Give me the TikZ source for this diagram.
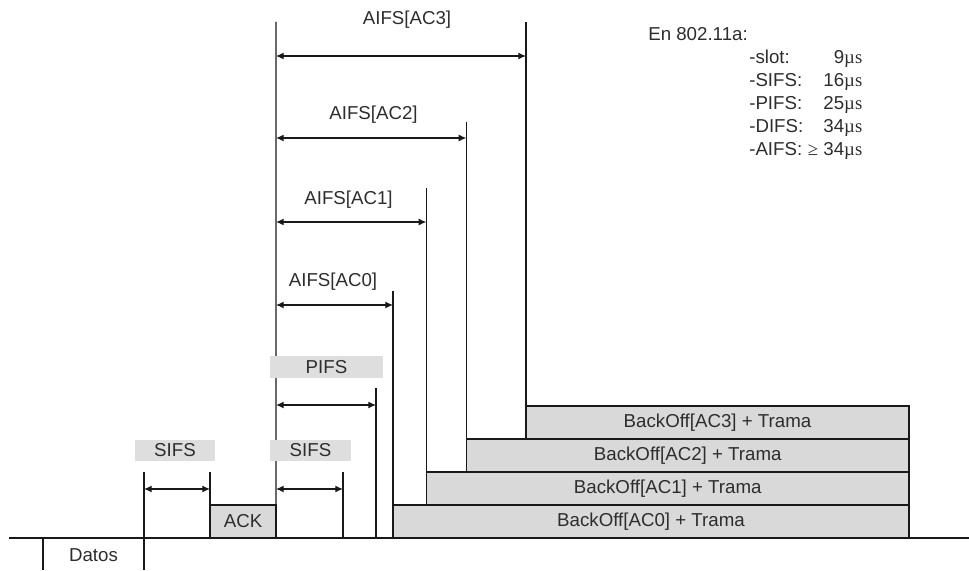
\documentclass[tikz,border=0pt]{standalone}
\usepackage{fontspec}
\setmainfont{Liberation Sans}
\newfontfamily\simbolo{Liberation Serif}
\usepackage{tikz}
\usetikzlibrary{arrows.meta,positioning}
\definecolor{grisbloque}{RGB}{217,217,217}
\definecolor{grisetiqueta}{RGB}{222,222,222}
\definecolor{grislinea}{RGB}{25,25,25}
\definecolor{gristexto}{RGB}{45,45,45}
\newcommand{\microseg}{{\simbolo µs}}

\begin{document}
\begin{tikzpicture}[
        font=\fontsize{13.3}{16.3}\selectfont, text=gristexto,
        linea/.style={draw=grislinea, line width=0.9pt},
        bloque/.style={rectangle, draw=grislinea, line width=0.9pt, fill=grisbloque, minimum height=0.825cm, inner sep=0pt, outer sep=0pt, anchor=south west},
        etiqueta/.style={rectangle, fill=grisetiqueta, minimum height=0.525cm, inner sep=0pt},
        cota/.style={<->, draw=grislinea, line width=0.9pt, >={Latex[length=5.5pt,width=5pt]}}]

        \useasboundingbox (0,0) rectangle (24.225,14.25);

        % eje de tiempo
        \coordinate (ejeI) at (0.225,0.8);
        \coordinate (ejeF) at (24.225,0.8);
        \draw[linea] (ejeI) -- (ejeF);

        % trama de datos
        \node (datos) at (2.3375,0.375) {Datos};
        \coordinate (datosI) at (1.075,0.8);
        \coordinate (datosIb) at (1.075,0);
        \coordinate (sifsA) at (3.6,2.45);
        \coordinate (sifsAb) at (3.6,0);
        \draw[linea] (datosI) -- (datosIb);
        \draw[linea] (sifsA) -- (sifsAb);

        % ACK
        \node[bloque, minimum width=1.65cm] (ACK) at (5.25,0.8) {ACK};
        \coordinate (ackT) at (5.25,2.45);
        \draw[linea] (ACK.north west) -- (ackT);
        \coordinate (inicio) at (6.9,13.7);
        \draw[linea] (ACK.south east) -- (inicio);

        % SIFS
        \node[etiqueta, minimum width=2cm] (SIFS1) at (4.375,2.9875) {SIFS};
        \node[etiqueta, minimum width=2.025cm] (SIFS2) at (7.7625,2.9875) {SIFS};
        \coordinate (sifs1F) at (5.25,2.025);
        \draw[cota] (sifsA |- sifs1F) -- (sifs1F);
        \coordinate (sifs2F) at (8.575,2.025);
        \coordinate (sifs2T) at (8.575,2.45);
        \coordinate (sifs2B) at (8.575,0.8);
        \draw[linea] (sifs2T) -- (sifs2B);
        \draw[cota] (inicio |- sifs2F) -- (sifs2F);

        % PIFS
        \node[etiqueta, minimum width=2.825cm, minimum height=0.55cm] (PIFS) at (8.1625,5.075) {PIFS};
        \coordinate (pifsF) at (9.4,4.125);
        \coordinate (pifsT) at (9.4,4.55);
        \coordinate (pifsB) at (9.4,0.8);
        \draw[linea] (pifsT) -- (pifsB);
        \draw[cota] (inicio |- pifsF) -- (pifsF);

        % backoff + trama
        \node[bloque, minimum width=12.9cm] (BO0) at (9.825,0.8) {BackOff[AC0] + Trama};
        \node[bloque, minimum width=12.065cm] (BO1) at (10.66,1.625) {BackOff[AC1] + Trama};
        \node[bloque, minimum width=11.065cm] (BO2) at (11.66,2.45) {BackOff[AC2] + Trama};
        \node[bloque, minimum width=9.575cm] (BO3) at (13.15,3.275) {BackOff[AC3] + Trama};

        % AIFS
        \coordinate (T0) at (9.825,6.975);
        \coordinate (T1) at (10.66,9.55);
        \coordinate (T2) at (11.66,11.2);
        \coordinate (T3) at (13.15,13.7);
        \draw[linea] (BO0.north west) -- (T0);
        \draw[linea] (BO1.north west) -- (T1);
        \draw[linea] (BO2.north west) -- (T2);
        \draw[linea] (BO3.north west) -- (T3);

        \coordinate (F0) at (9.825,6.625);
        \coordinate (F1) at (10.66,8.7);
        \coordinate (F2) at (11.66,10.8);
        \coordinate (F3) at (13.15,12.85);
        \draw[cota] (inicio |- F0) -- (F0);
        \draw[cota] (inicio |- F1) -- (F1);
        \draw[cota] (inicio |- F2) -- (F2);
        \draw[cota] (inicio |- F3) -- (F3);

        \node (AIFS0) at (8.325,7.2) {AIFS[AC0]};
        \node (AIFS1) at (8.7125,9.25) {AIFS[AC1]};
        \node (AIFS2) at (9.3375,11.375) {AIFS[AC2]};
        \node (AIFS3) at (10.175,13.75) {AIFS[AC3]};

        % valores 802.11a
        \node[anchor=west, inner sep=0pt] (norma) at (16.2,13.4) {En 802.11a:};
        \node[anchor=base west, inner sep=0pt] (valores) at (18.725,12.657) {%
            \begin{tabular*}{2.825cm}[t]{@{}l@{\extracolsep{\fill}}r@{}}
            -slot: & 9\microseg\\
            -SIFS: & 16\microseg\\
            -PIFS: & 25\microseg\\
            -DIFS: & 34\microseg\\
            -AIFS: & {\simbolo ≥} 34\microseg
            \end{tabular*}};

    \end{tikzpicture}
\end{document}
